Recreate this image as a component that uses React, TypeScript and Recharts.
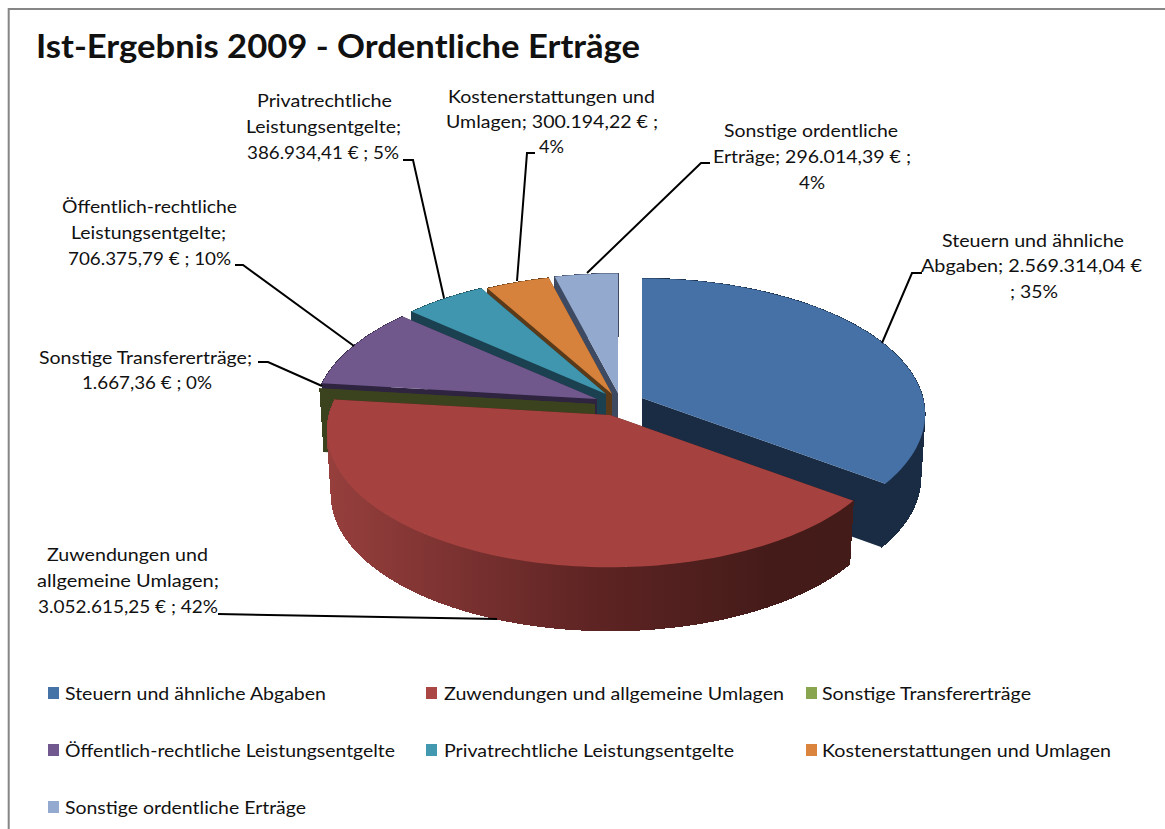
import React from "react";
import { PieChart, Pie, Legend } from "recharts";

const CATEGORIES = [
  "Steuern und ähnliche Abgaben",
  "Zuwendungen und allgemeine Umlagen",
  "Sonstige Transfererträge",
  "Öffentlich-rechtliche Leistungsentgelte",
  "Privatrechtliche Leistungsentgelte",
  "Kostenerstattungen und Umlagen",
  "Sonstige ordentliche Erträge",
];
const VALUES = [2569314.04, 3052615.25, 1667.36, 706375.79, 386934.41, 300194.22, 296014.39];
const LABEL_LINES = [
  ["Steuern und ähnliche", "Abgaben; 2.569.314,04 €", "; 35%"],
  ["Zuwendungen und", "allgemeine Umlagen;", "3.052.615,25 € ; 42%"],
  ["Sonstige Transfererträge;", "1.667,36 € ; 0%"],
  ["Öffentlich-rechtliche", "Leistungsentgelte;", "706.375,79 € ; 10%"],
  ["Privatrechtliche", "Leistungsentgelte;", "386.934,41 € ; 5%"],
  ["Kostenerstattungen und", "Umlagen; 300.194,22 € ;", "4%"],
  ["Sonstige ordentliche", "Erträge; 296.014,39 € ;", "4%"],
];
const TITLE = "Ist-Ergebnis 2009 - Ordentliche Erträge";

const TOP_COLORS = ["#4571a6", "#a5423f", "#89a54e", "#70588d", "#3f96ae", "#d6813c", "#93a9ce"];
const SIDE_COLORS = ["#1a2c44", "#431b18", "#3a431e", "#2e2440", "#1b4150", "#5a3a18", "#3d4a62"];
const LEGEND_COLORS = ["#4572a7", "#aa4643", "#89a54e", "#71588f", "#4198af", "#db843d", "#93a9cf"];

// geometry of the tilted, exploded disk
const BASE_CX = 612;
const BASE_CY = 400;
const RADIUS = 281;
const RADIUS_Y = 134;
const PERSPECTIVE = 0.12;
const DEPTH = 63.5;
const BOTTOM_SCALE = 0.985;
const EXPLODE: [number, number][] = [
  [30, -2], [-2, 15], [-17, 4], [-15, -1], [-6, -6], [0, -6], [6, -7],
];

// label layout: per line [x1, x2, baseline]
const LABEL_BOXES: [number, number, number][][] = [
  [[942, 1124, 247], [921, 1142, 272], [1010, 1058, 298]],
  [[47, 208, 561], [37, 219, 587], [38, 218, 613]],
  [[39, 252, 364], [82, 212, 389]],
  [[62, 237, 213], [71, 226, 239], [68, 231, 265]],
  [[257, 392, 107], [246, 401, 133], [247, 399, 159]],
  [[448, 655, 103], [446, 658, 128], [539, 564, 153]],
  [[724, 898, 137], [713, 911, 163], [799, 825, 189]],
];
const LEADERS = [
  "882,343 912,273 922,273",
  "218,614 497,619",
  "258,362 268,362 322,386",
  "235,265 243,265 354,346",
  "403,160 413,160 444,298",
  "535,153 527,153 517,281",
  "710,163 701,163 587,273",
];
// legend layout: [marker x, text x1, text x2, row y baseline]
const LEGEND_BOXES: [number, number, number, number][] = [
  [48, 65, 326, 700],
  [426, 444, 784, 700],
  [806, 822, 1031, 700],
  [48, 65, 395, 757],
  [426, 444, 734, 757],
  [806, 822, 1111, 757],
  [48, 65, 306, 814],
];

const FONT = "Lato, 'Open Sans', sans-serif";
const tableRows = CATEGORIES.map((name, i) => ({ name, value: VALUES[i], fill: TOP_COLORS[i] })).reverse();
const RED = CATEGORIES[1];

const project = (deg: number) => {
  const t = (deg * Math.PI) / 180;
  const u = Math.sin(t);
  const v = -Math.cos(t);
  const p = 1 / (1 - PERSPECTIVE * v);
  return [u * RADIUS * p, v * RADIUS_Y * p];
};

function Slice(props: any) {
  const i = CATEGORIES.indexOf(props.name);
  const [dx, dy] = EXPLODE[i];
  const cx = props.cx + dx;
  const cy = props.cy + dy;
  const a0 = 90 - props.startAngle;
  const a1 = 90 - props.endAngle;
  const lo = Math.min(a0, a1);
  const hi = Math.max(a0, a1);
  const angles: number[] = [];
  for (let a = lo; a < hi; a += 1.5) angles.push(a);
  angles.push(hi);
  const top = (a: number) => {
    const [x, y] = project(a);
    return [cx + x, cy + y];
  };
  const bot = (a: number) => {
    const [x, y] = project(a);
    return [cx + x * BOTTOM_SCALE, cy + DEPTH + y];
  };
  const pts = (l: number[][]) => l.map((q) => `${q[0].toFixed(1)},${q[1].toFixed(1)}`).join(" ");
  const apexTop = [cx, cy];
  const apexBot = [cx, cy + DEPTH];
  const side = SIDE_COLORS[i];
  const rimFill = props.name === RED ? "url(#redRim)" : side;
  const topColor = TOP_COLORS[i];
  return (
    <g>
      <polygon points={pts([apexTop, top(lo), bot(lo), apexBot])} fill={side} />
      <polygon points={pts([apexTop, top(hi), bot(hi), apexBot])} fill={side} />
      {angles.slice(1).map((a, k) => (
        <polygon
          key={k}
          points={pts([top(angles[k]), top(a), bot(a), bot(angles[k])])}
          fill={rimFill}
          stroke={rimFill}
          strokeWidth={1}
          shapeRendering="crispEdges"
        />
      ))}
      {hi - lo > 1 ? <polygon points={pts([apexTop, ...angles.map(top)])} fill={topColor} /> : null}
    </g>
  );
}

const backShape = (p: any) => (p.name === RED ? <g /> : <Slice {...p} />);
const redShape = (p: any) => (p.name === RED ? <Slice {...p} /> : <g />);

const FitText = ({ x1, x2, y, size, weight, children }: any) => (
  <text
    x={x1}
    y={y}
    textLength={x2 - x1}
    lengthAdjust="spacingAndGlyphs"
    fontFamily={FONT}
    fontSize={size}
    fontWeight={weight || 400}
    fill="#111"
    stroke="none"
  >
    {children}
  </text>
);

const renderLabel = (p: any) => {
  const i = CATEGORIES.indexOf(p.name);
  return (
    <g key={p.name}>
      <polyline points={LEADERS[i]} fill="none" stroke="#000" strokeWidth={2} />
      {LABEL_LINES[i].map((line, k) => (
        <FitText key={k} x1={LABEL_BOXES[i][k][0]} x2={LABEL_BOXES[i][k][1]} y={LABEL_BOXES[i][k][2]} size={17.5}>
          {line}
        </FitText>
      ))}
    </g>
  );
};

const renderLegend = () => (
  <svg width={1165} height={829} style={{ position: "absolute", left: 0, top: 0 }}>
    {CATEGORIES.map((name, i) => {
      const [mx, x1, x2, y] = LEGEND_BOXES[i];
      return (
        <g key={name}>
          <rect x={mx} y={y - 13} width={11} height={12} fill={LEGEND_COLORS[i]} />
          <FitText x1={x1} x2={x2} y={y} size={18}>
            {name}
          </FitText>
        </g>
      );
    })}
  </svg>
);

export default function App() {
  return (
    <div style={{ position: "absolute", left: 0, top: 0, width: 1165, height: 829, background: "#fff" }}>
      <PieChart width={1165} height={829} margin={{ top: 0, right: 0, bottom: 0, left: 0 }}>
        <defs>
          <linearGradient id="redRim" gradientUnits="userSpaceOnUse" x1={330} y1={0} x2={853} y2={0}>
            <stop offset="0" stopColor="#963f3d" />
            <stop offset="0.5" stopColor="#5e2423" />
            <stop offset="0.85" stopColor="#441b19" />
            <stop offset="1" stopColor="#431b18" />
          </linearGradient>
        </defs>
        <path d="M8.7 829 V9 H1165" fill="none" stroke="#868686" strokeWidth={2} />
        <FitText x1={36} x2={640} y={58} size={32} weight={700}>
          {TITLE}
        </FitText>
        <Pie
          data={tableRows}
          dataKey="value"
          nameKey="name"
          cx={BASE_CX}
          cy={BASE_CY}
          outerRadius={RADIUS}
          startAngle={90}
          endAngle={450}
          stroke="none"
          shape={backShape}
          label={renderLabel}
          labelLine={false}
          isAnimationActive={false}
        />
        <Pie
          data={tableRows}
          dataKey="value"
          nameKey="name"
          cx={BASE_CX}
          cy={BASE_CY}
          outerRadius={RADIUS}
          startAngle={90}
          endAngle={450}
          stroke="none"
          shape={redShape}
          legendType="none"
          isAnimationActive={false}
        />
        <Legend
          layout="horizontal"
          verticalAlign="middle"
          content={renderLegend}
          wrapperStyle={{ position: "absolute", left: 0, top: 0, width: 1165, height: 829, pointerEvents: "none" }}
        />
      </PieChart>
    </div>
  );
}
